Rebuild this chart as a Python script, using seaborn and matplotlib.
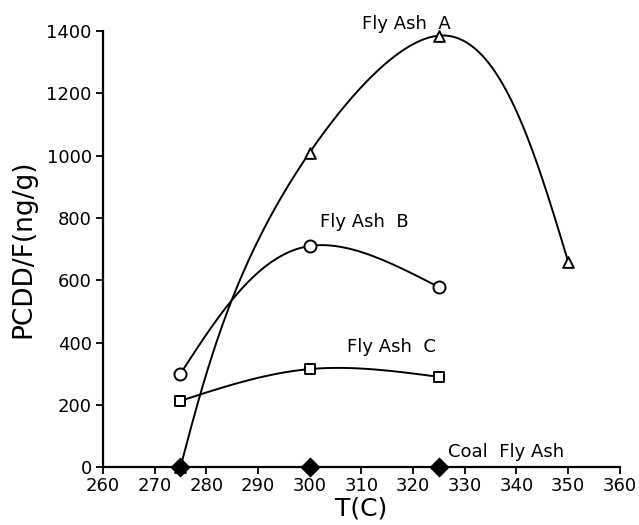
import numpy as np
import pandas as pd
import matplotlib
matplotlib.use("Agg")
import matplotlib.pyplot as plt
import seaborn as sns

# Data
temp_a = [275, 300, 325, 350]
ash_a = [0, 1010, 1385, 660]
temp_b = [275, 300, 325]
ash_b = [300, 710, 578]
temp_c = [275, 300, 325]
ash_c = [213, 315, 290]
temp_coal = [275, 300, 325]
coal = [0, 0, 0]

sns.set_theme(style="ticks")
plt.rcParams['font.family'] = ['DejaVu Sans']
plt.rcParams['text.color'] = 'black'
plt.rcParams['axes.labelcolor'] = 'black'

fig = plt.figure(figsize=(6.39, 5.25), dpi=100)
ax = fig.add_axes([0.161, 0.110, 0.809, 0.831])
XSPAN, YSPAN = 100.0, 1400.0
W_PX, H_PX = 517.0, 436.0


def natural_spline(s, v, ss):
    n = len(s)
    h = np.diff(s)
    A = np.zeros((n, n))
    r = np.zeros(n)
    A[0, 0] = A[-1, -1] = 1.0
    for i in range(1, n - 1):
        A[i, i - 1] = h[i - 1]
        A[i, i] = 2 * (h[i - 1] + h[i])
        A[i, i + 1] = h[i]
        r[i] = 6 * ((v[i + 1] - v[i]) / h[i] - (v[i] - v[i - 1]) / h[i - 1])
    M = np.linalg.solve(A, r)
    idx = np.clip(np.searchsorted(s, ss, side="right") - 1, 0, n - 2)
    hk = h[idx]
    a = (s[idx + 1] - ss) / hk
    b = (ss - s[idx]) / hk
    return (a * v[idx] + b * v[idx + 1]
            + ((a**3 - a) * M[idx] + (b**3 - b) * M[idx + 1]) * hk**2 / 6)


def smooth_curve(xs, ys, n=400):
    """Parametric natural cubic spline (chord length in screen units)."""
    x = np.asarray(xs, float) * W_PX / XSPAN
    y = np.asarray(ys, float) * H_PX / YSPAN
    s = np.concatenate([[0], np.cumsum(np.hypot(np.diff(x), np.diff(y)))])
    ss = np.linspace(0, s[-1], n)
    xx = natural_spline(s, x, ss) * XSPAN / W_PX
    yy = natural_spline(s, y, ss) * YSPAN / H_PX
    return pd.DataFrame({"x": xx, "y": yy})


for xs, ys, mk, sz in [(temp_a, ash_a, "^", 60),
                       (temp_b, ash_b, "o", 75),
                       (temp_c, ash_c, "s", 55)]:
    d = smooth_curve(xs, ys)
    sns.lineplot(data=d, x="x", y="y", ax=ax, color="black", lw=1.4,
                 sort=False, estimator=None)
    pts = pd.DataFrame({"x": xs, "y": ys})
    sns.scatterplot(data=pts, x="x", y="y", ax=ax, marker=mk, s=sz,
                    facecolors="white", edgecolors="black", linewidth=1.4,
                    clip_on=False, zorder=5)

pts = pd.DataFrame({"x": temp_coal, "y": coal})
sns.scatterplot(data=pts, x="x", y="y", ax=ax, marker="D", s=90,
                color="black", edgecolor="black", clip_on=False, zorder=6)

ax.set_xlim(260, 360)
ax.set_ylim(0, 1400)
ax.set_xticks(range(260, 361, 10))
ax.set_yticks(range(0, 1401, 200))
ax.tick_params(axis="both", labelsize=13, colors="black", width=1.3,
               length=5, direction="out")
ax.tick_params(axis="x", pad=2)
ax.tick_params(axis="y", pad=3)
for s in ["top", "right"]:
    ax.spines[s].set_visible(False)
for s in ["left", "bottom"]:
    ax.spines[s].set_linewidth(1.6)
    ax.spines[s].set_color("black")

ax.set_xlabel("T(C)", fontsize=18, labelpad=1)
ax.set_ylabel("PCDD/F(ng/g)", fontsize=19, labelpad=7)

ax.text(310.2, 1422, "Fly Ash  A", fontsize=13, ha="left", va="center")
ax.text(302, 786, "Fly Ash  B", fontsize=13, ha="left", va="center")
ax.text(307.2, 385, "Fly Ash  C", fontsize=13, ha="left", va="center")
ax.text(326.8, 48, "Coal  Fly Ash", fontsize=13, ha="left", va="center")

fig.savefig("out.png", dpi=100)
